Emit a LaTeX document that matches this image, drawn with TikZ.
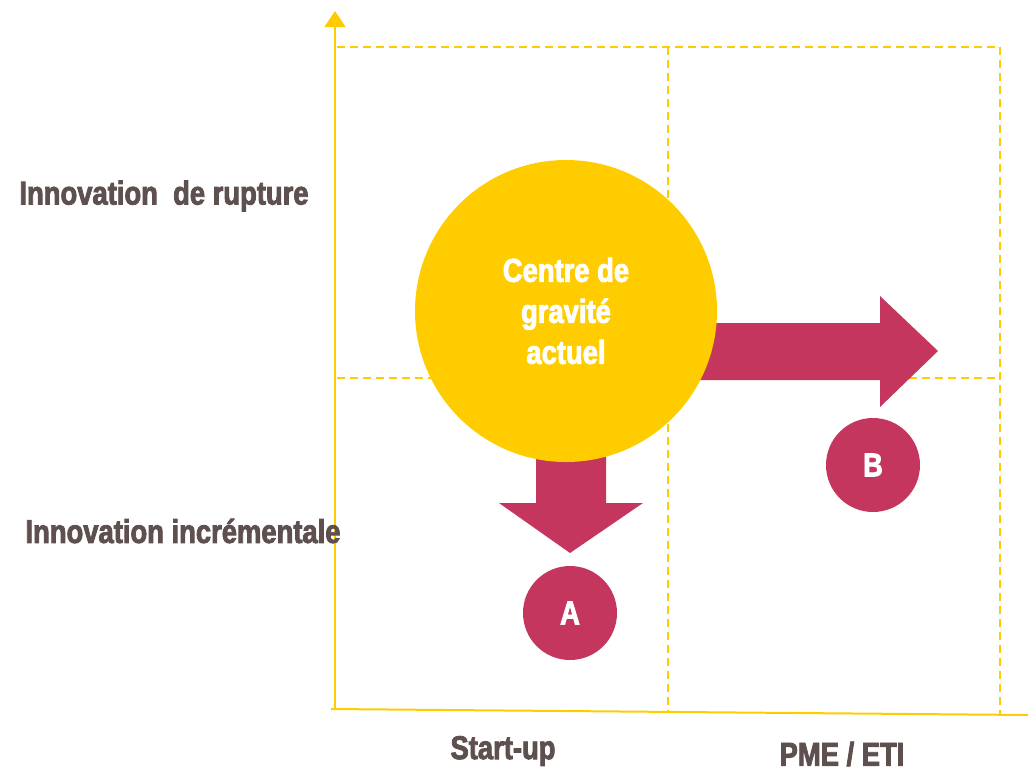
\documentclass[tikz,border=0pt]{standalone}
\usepackage{fontspec}
\newfontfamily\labfont[FakeStretch=0.83, BoldFeatures={FakeBold=2.5}]{Liberation Sans}
\usetikzlibrary{arrows.meta}
\definecolor{jaune}{HTML}{FFCC00}
\definecolor{framboise}{HTML}{C5365F}
\definecolor{taupe}{HTML}{5E504E}
\begin{document}
\begin{tikzpicture}[x=1pt, y=-1pt,
    every node/.style = {font=\labfont\bfseries\fontsize{33}{41}\selectfont},
    grille/.style = {jaune, dash pattern=on 8pt off 5pt, line width=1.5pt},
    axe/.style = {jaune, line width=2pt},
    bulle/.style = {circle, inner sep=0pt, text=white, align=center},
    etiquette/.style = {text=taupe, inner sep=0pt}]
  \useasboundingbox (0,0) rectangle (1028,772);
  % grille
  \draw[grille] (337,47) -- (1000,47);
  \draw[grille] (337,378) -- (1000,378);
  \draw[grille] (668,47) -- (668,711);
  \draw[grille] (1000,47) -- (1000,714);
  % axes
  \coordinate (O) at (335,709);
  \coordinate (haut) at (335,11);
  \coordinate (gauche) at (331,709);
  \coordinate (droite) at (1028,715);
  \draw[axe, -{Triangle[width=21pt,length=16pt]}] (O) -- (haut);
  \draw[axe] (gauche) -- (droite);

  % fleches
  \fill[framboise] (690,323) -- (880,323) -- (880,296) -- (938,351)
    -- (880,407) -- (880,380) -- (690,380) -- cycle;
  \fill[framboise] (536,430) -- (606,430) -- (606,503) -- (643,503)
    -- (570,553) -- (499,503) -- (536,503) -- cycle;

  % cercles
  \node[bulle, fill=jaune, minimum size=302pt] (centre) at (566,311) {Centre de\\gravité\\actuel};
  \node[bulle, fill=framboise, minimum size=94pt] (A) at (570,613) {A};
  \node[bulle, fill=framboise, minimum size=94pt] (B) at (873,465) {B};

  % etiquettes
  \node[etiquette] (rupture) at (164,196) {Innovation\ \ de rupture};
  \node[etiquette] (incr) at (183,531) {Innovation incrémentale};
  \node[etiquette] (startup) at (503,751) {Start-up};
  \node[etiquette] (pme) at (842,754) {PME / ETI};
\end{tikzpicture}
\end{document}
